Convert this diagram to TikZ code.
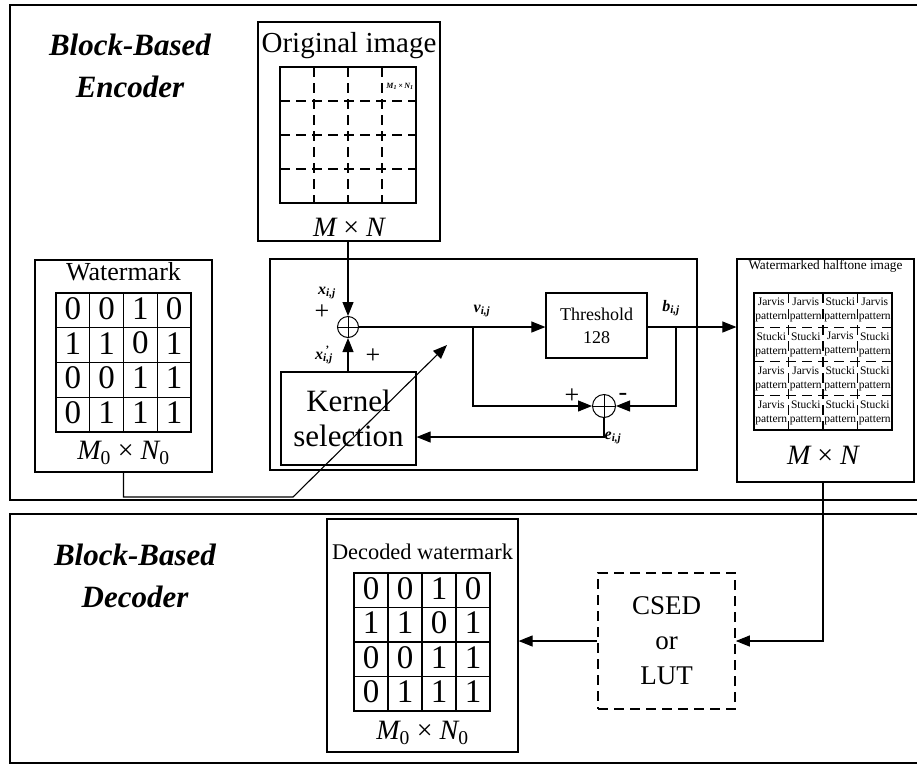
\documentclass[tikz,border=0pt]{standalone}
\usepackage{fontspec}
\setmainfont{Liberation Serif}
\usetikzlibrary{arrows.meta}
\newcommand{\fsz}[2]{\fontsize{#1}{#2}\selectfont}
\tikzset{
  >={Triangle[length=14pt,width=11pt]},
  frame/.style={draw, line width=1.4pt},
  box/.style={draw, line width=1.2pt, inner sep=0pt},
  conn/.style={line width=1.1pt},
  sumnode/.style={draw, circle, minimum size=21pt, inner sep=0pt, line width=1pt,
    path picture={\draw[line width=0.8pt] (path picture bounding box.north) -- (path picture bounding box.south)
      (path picture bounding box.west) -- (path picture bounding box.east);}},
  gridline/.style={line width=1.3pt, dash pattern=on 10pt off 6pt},
  lbl/.style={font=\fsz{16}{18}\bfseries\itshape, inner sep=0pt},
  sign/.style={font=\fsz{26}{28}, inner sep=0pt},
}
\begin{document}
\begin{tikzpicture}[x=1pt,y=-1pt,font=\fsz{22}{26}]
    \useasboundingbox (0,0) rectangle (917,766);

    % Frames
    \draw[frame] (917,5) -- (10,5) -- (10,500) -- (917,500);
    \draw[frame] (917,514) -- (10,514) -- (10,763) -- (917,763);
    \node[font=\fsz{31}{42}\bfseries\itshape, align=center] (enctitle) at (130,66) {Block-Based\\Encoder};
    \node[font=\fsz{31}{42}\bfseries\itshape, align=center] (dectitle) at (135,576) {Block-Based\\Decoder};

    % Original image
    \node[box, minimum width=182pt, minimum height=219pt] (orig) at (349,131.5) {};
    \node[font=\fsz{29}{30}] (origtitle) at (349,46) {Original image};
    \draw[line width=1.2pt] (280,67) rectangle (416,203);
    \foreach \k in {1,2,3} {
        \draw[gridline] (280+34*\k,67) -- (280+34*\k,203);
        \draw[gridline] (280,67+34*\k) -- (416,67+34*\k);
    }
    \node[font=\fsz{8}{9}\bfseries\itshape, inner sep=0pt] (blocklbl) at (400,86) {M\textsubscript{1}\,×\,N\textsubscript{1}};
    \node[font=\fsz{28}{30}] (origsize) at (349,227) {\itshape M \upshape× \itshape N};

    % Watermark
    \node[box, minimum width=177pt, minimum height=212pt] (wmark) at (123.5,366) {};
    \node[font=\fsz{26}{28}] (wmtitle) at (123.5,272) {Watermark};
    \draw[line width=1.1pt] (56,293) rectangle (191,432);
    \foreach \k in {1,2,3} {
        \draw[line width=1.1pt] (56+33.75*\k,293) -- (56+33.75*\k,432);
        \draw[line width=1.1pt] (56,293+34.75*\k) -- (191,293+34.75*\k);
    }
    \foreach [count=\r] \row in {{0,0,1,0},{1,1,0,1},{0,0,1,1},{0,1,1,1}}
        \foreach [count=\c] \d in \row
            \node[font=\fsz{33}{33}, inner sep=0pt] at ({56+33.75*(\c-0.5)},{291+34.75*(\r-0.5)}) {\d};
    \node[font=\fsz{28}{30}] (wmsize) at (123.5,453) {\itshape M\upshape\textsubscript{0} × \itshape N\upshape\textsubscript{0}};

    % Watermarked halftone image
    \node[box, minimum width=177pt, minimum height=223pt] (halft) at (825.5,370.5) {};
    \node[font=\fsz{13.3}{15}] (halftitle) at (825.5,266) {Watermarked halftone image};
    \draw[line width=1.3pt] (754,293) rectangle (892,430);
    \foreach \k in {1,2,3} {
        \draw[gridline] (754+34.5*\k,293) -- (754+34.5*\k,430);
        \draw[gridline] (754,293+34.25*\k) -- (892,293+34.25*\k);
    }
    \foreach [count=\r] \row in {{Jarvis,Jarvis,Stucki,Jarvis},{Stucki,Stucki,Jarvis,Stucki},{Jarvis,Jarvis,Stucki,Stucki},{Jarvis,Stucki,Stucki,Stucki}}
        \foreach [count=\c] \p in \row
            \node[font=\fsz{11.5}{14}, align=center, inner sep=0pt, fill=white] at ({754+34.5*(\c-0.5)},{293+34.25*(\r-0.5)}) {\p\\pattern};
    \node[font=\fsz{28}{30}] (halftsize) at (823,455) {\itshape M \upshape× \itshape N};

    % Encoder loop
    \node[box, minimum width=427pt, minimum height=211pt] (mid) at (483.5,364.5) {};
    \node[sumnode] (sumA) at (348,327) {};
    \node[box, minimum width=135pt, minimum height=93pt, align=center, font=\fsz{31}{35}] (kernel) at (348.5,418.5) {Kernel\\selection};
    \node[box, minimum width=101pt, minimum height=65pt, align=center, font=\fsz{18}{23}] (thresh) at (596.5,325.5) {Threshold\\128};
    \node[sumnode, minimum size=23pt] (sumB) at (604,406) {};
    \coordinate (vbr) at (473,327);
    \coordinate (bbr) at (676,327);

    \node[lbl] (xlab) at (327,293) {x\textsubscript{i,j}};
    \node[sign] (plusA) at (322,312) {+};
    \node[lbl] (xplab) at (324,355) {x\rlap{\textsuperscript{\,'}}\textsubscript{i,j}};
    \node[sign] (plusB) at (373,356) {+};
    \node[lbl] (vlab) at (482,311) {v\textsubscript{i,j}};
    \node[lbl] (blab) at (671,308) {b\textsubscript{i,j}};
    \node[sign] (plusC) at (572,396) {+};
    \node[sign] (minus) at (623,397) {-};
    \node[lbl] (elab) at (613,438) {e\textsubscript{i,j}};

    \draw[conn,->] (sumA |- orig.south) -- (sumA.north);
    \draw[conn,->] (sumA |- kernel.north) -- (sumA.south);
    \draw[conn,->] (sumA.east) -- (sumA.east -| thresh.west);
    \draw[conn,->] (thresh.east |- sumA) -- (sumA -| halft.west);
    \draw[conn,->] (vbr) |- (sumB.west);
    \draw[conn,->] (bbr) |- (sumB.east);
    \draw[conn,->] (sumB.south) |- ([yshift=-18.5pt]kernel.east);

    % Watermark embedding
    \coordinate (wmbend) at (293,497);
    \coordinate (wmtip) at (447,345);
    \draw[conn,->] (wmark.south) |- (wmbend) -- (wmtip);

    % Decoder
    \node[box, dashed, line width=1.6pt, dash pattern=on 10pt off 6pt, minimum width=137pt, minimum height=136pt, align=center, font=\fsz{27}{35}] (csed) at (666.5,641) {CSED\\or\\LUT};
    \node[box, minimum width=191pt, minimum height=233pt] (decwm) at (422.5,635.5) {};
    \node[font=\fsz{22.4}{25}] (dectitle2) at (422.5,552) {Decoded watermark};
    \draw[line width=1.1pt] (354,573) rectangle (490,711);
    \foreach \k in {1,2,3} {
        \draw[line width=1.1pt] (354+34*\k,573) -- (354+34*\k,711);
        \draw[line width=1.1pt] (354,573+34.5*\k) -- (490,573+34.5*\k);
    }
    \foreach [count=\r] \row in {{0,0,1,0},{1,1,0,1},{0,0,1,1},{0,1,1,1}}
        \foreach [count=\c] \d in \row
            \node[font=\fsz{33}{33}, inner sep=0pt] at ({354+34*(\c-0.5)},{571+34.5*(\r-0.5)}) {\d};
    \node[font=\fsz{28}{30}] (decsize) at (422.5,733) {\itshape M\upshape\textsubscript{0} × \itshape N\upshape\textsubscript{0}};

    \draw[conn,->] ([xshift=-2.5pt]halft.south) |- (csed.east);
    \draw[conn,->] (csed.west) -- (csed.west -| decwm.east);
\end{tikzpicture}
\end{document}
